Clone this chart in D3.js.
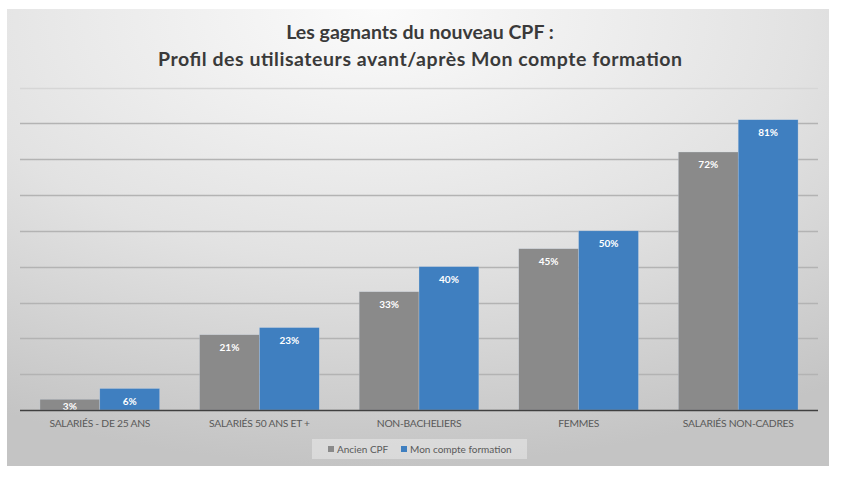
<!DOCTYPE html>
<html><head><meta charset="utf-8">
<script src="https://cdn.jsdelivr.net/npm/d3@7"></script>
<style>body{margin:0;background:#fff}svg{display:block}</style>
</head><body>
<script>
const categories = ["SALARIÉS - DE 25 ANS","SALARIÉS 50 ANS ET +","NON-BACHELIERS","FEMMES","SALARIÉS NON-CADRES"];
const ancienCPF = [3,21,33,45,72];
const monCompte = [6,23,40,50,81];
const seriesNames = ["Ancien CPF","Mon compte formation"];
const seriesColors = ["#8a8a8a","#3f7fc0"];
const yTicks = [0,10,20,30,40,50,60,70,80,90];

const W=851,H=484;
const svg=d3.select("body").append("svg").attr("width",W).attr("height",H);
const defs=svg.append("defs");
const g1=defs.append("radialGradient").attr("id","bg").attr("cx","0.45").attr("cy","0.05").attr("r","0.95").attr("fx","0.45").attr("fy","0.0");
g1.append("stop").attr("offset","0").attr("stop-color","#fbfbfb");
g1.append("stop").attr("offset","0.55").attr("stop-color","#e2e2e2");
g1.append("stop").attr("offset","1").attr("stop-color","#c4c4c4");

svg.append("rect").attr("x",7).attr("y",9).attr("width",822).attr("height",457).attr("fill","url(#bg)");

const font="Lato, 'Open Sans', sans-serif";
svg.append("text").attr("x",420).attr("y",39).attr("text-anchor","middle").attr("font-family",font)
  .attr("font-size",19.5).attr("font-weight","bold").attr("fill","#3a3a3a").text("Les gagnants du nouveau CPF :");
svg.append("text").attr("x",420).attr("y",66).attr("text-anchor","middle").attr("font-family",font)
  .attr("font-size",19.5).attr("font-weight","bold").attr("fill","#3a3a3a").attr("textLength",524).attr("lengthAdjust","spacing")
  .text("Profil des utilisateurs avant/après Mon compte formation");

const x0=d3.scaleBand().domain(categories).range([20,818]).paddingInner(0.25).paddingOuter(0.125);
const x1=d3.scaleBand().domain([0,1]).range([0,x0.bandwidth()]);
const y=d3.scaleLinear().domain([0,90]).range([410,87.5]);

svg.append("g").selectAll("line").data(yTicks.slice(1)).join("line")
  .attr("x1",20).attr("x2",818).attr("y1",d=>Math.round(y(d))+0.5).attr("y2",d=>Math.round(y(d))+0.5)
  .attr("stroke",(d,i)=>d===90?"#d6d6d6":"#b3b3b3").attr("stroke-width",1.3);

const data=categories.map((c,i)=>({c,v:[ancienCPF[i],monCompte[i]]}));
const grp=svg.append("g").selectAll("g").data(data).join("g").attr("transform",d=>`translate(${x0(d.c)},0)`);
grp.selectAll("rect").data(d=>d.v.map((v,k)=>({v,k}))).join("rect")
  .attr("x",d=>x1(d.k)).attr("width",x1.bandwidth()).attr("y",d=>y(d.v)).attr("height",d=>410-y(d.v))
  .attr("fill",d=>seriesColors[d.k]).attr("stroke","#cfd8e4").attr("stroke-width",0.5).attr("stroke-opacity",0.6);
grp.selectAll("text").data(d=>d.v.map((v,k)=>({v,k}))).join("text")
  .attr("x",d=>x1(d.k)+x1.bandwidth()/2).attr("y",d=>Math.min(y(d.v)+16,410))
  .attr("text-anchor","middle").attr("font-family",font).attr("font-weight","bold").attr("font-size",10)
  .attr("fill","#fff").text(d=>d.v+"%");

const xAxis=svg.append("g").attr("transform","translate(0,410)")
  .call(d3.axisBottom(x0).tickSize(0).tickPadding(8));
xAxis.select(".domain").attr("stroke","#404040").attr("stroke-width",1.5).attr("d","M20,0.5H818");
xAxis.selectAll("text").attr("font-family",font).attr("font-size",10.3).attr("letter-spacing","-0.25px").attr("fill","#595959").attr("dy","0.9em");

const leg=svg.append("g");
leg.append("rect").attr("x",312).attr("y",439).attr("width",215).attr("height",20).attr("fill","#ffffff").attr("fill-opacity",0.35);
const lx=[328,401];
seriesNames.forEach((n,i)=>{
  leg.append("rect").attr("x",lx[i]).attr("y",446).attr("width",6).attr("height",6).attr("fill",seriesColors[i]);
  leg.append("text").attr("x",lx[i]+9).attr("y",452.5).attr("font-family",font).attr("font-size",10).attr("fill","#595959").text(n);
});
</script>
</body></html>
